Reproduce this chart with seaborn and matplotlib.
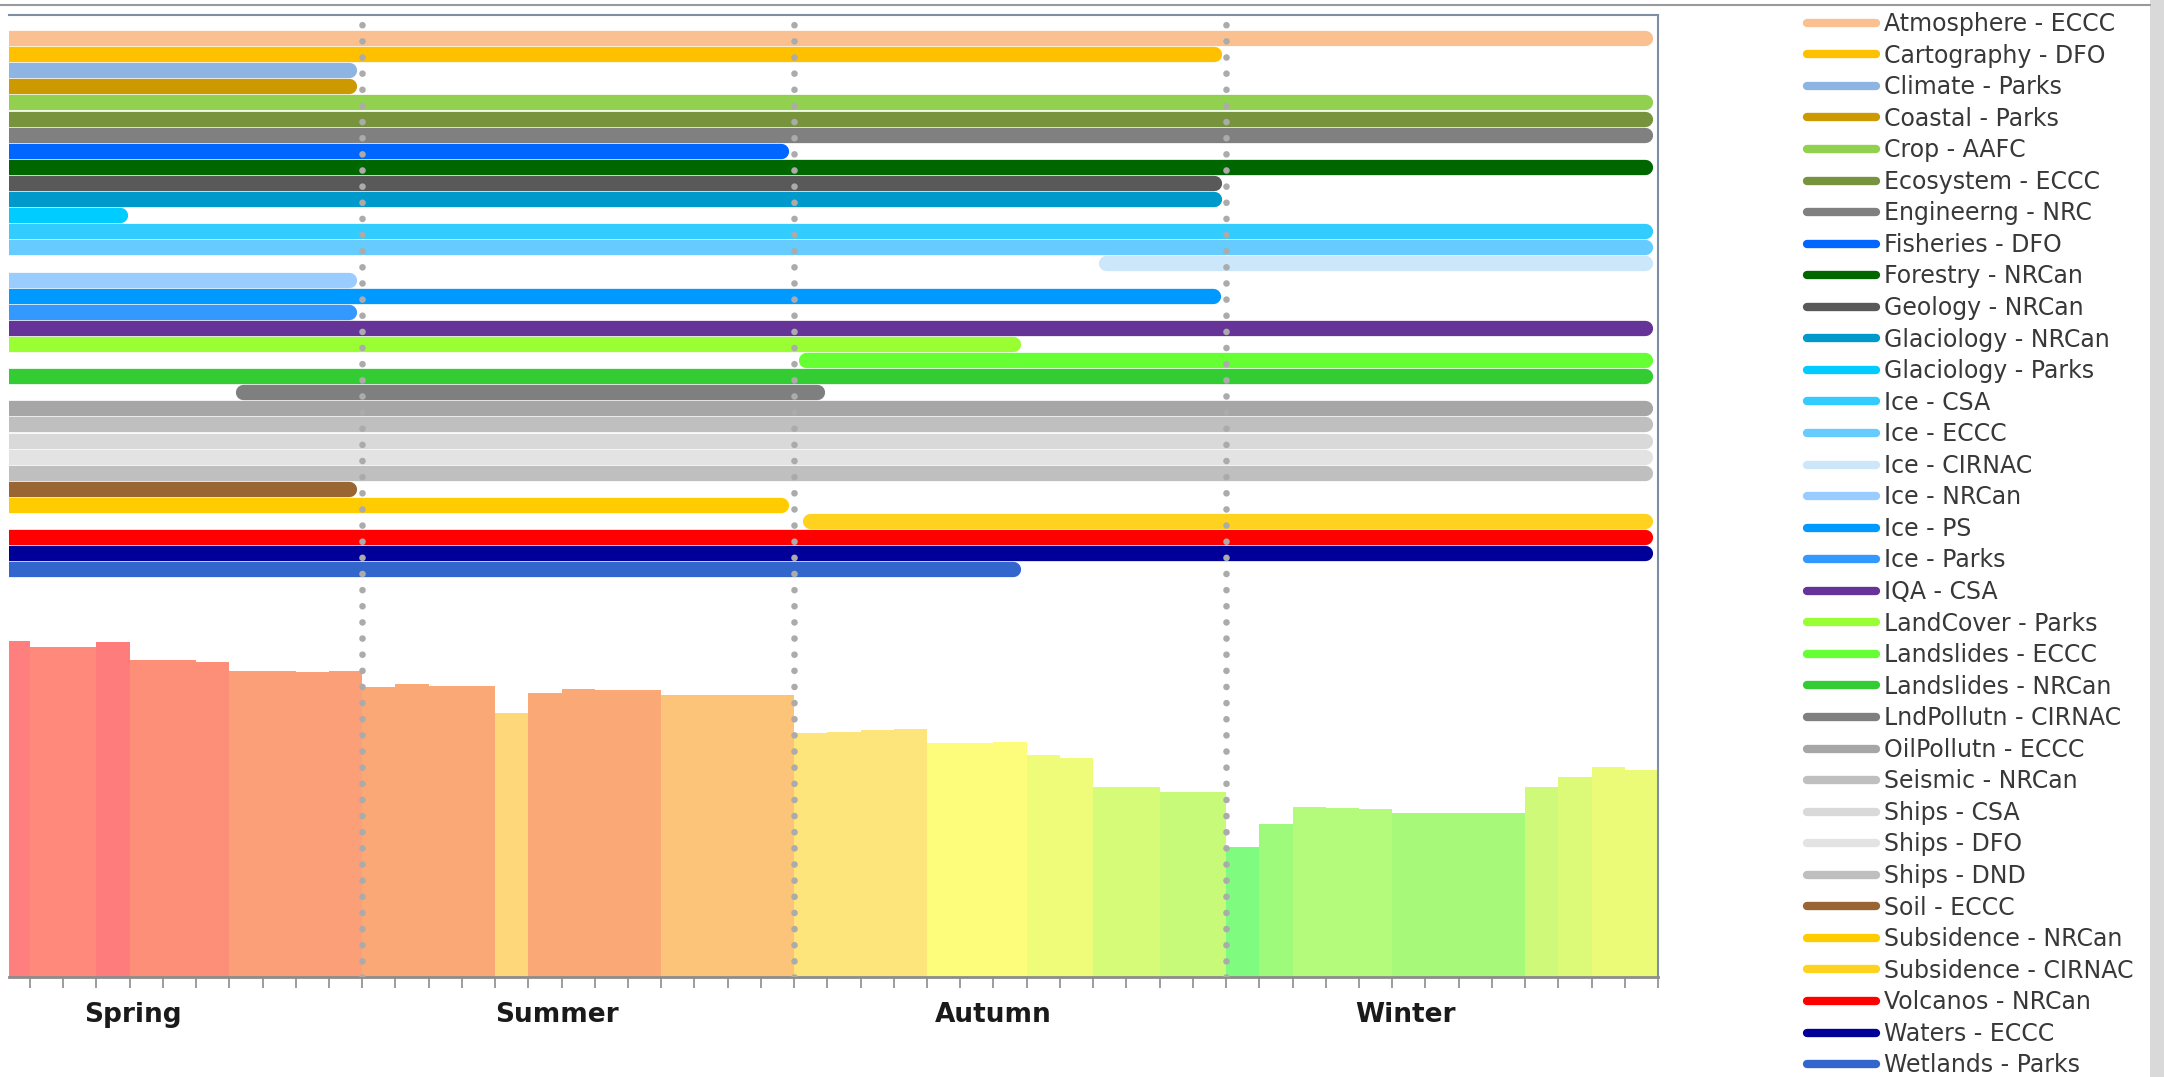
import matplotlib
matplotlib.use("Agg")
import matplotlib.pyplot as plt
from matplotlib.lines import Line2D
from matplotlib.patches import Rectangle
import pandas as pd
import seaborn as sns

# ---- weekly bars (weeks 3..52, each bar covers [week-1, week]) ----
weeks = list(range(3, 53))
week_values = [33.6, 33.0, 33.0, 33.5, 31.7, 31.7, 31.5, 30.6, 30.6, 30.5, 30.6,
               29.0, 29.3, 29.1, 29.1, 26.4, 28.4, 28.8, 28.7, 28.7, 28.2, 28.2, 28.2, 28.2,
               24.4, 24.5, 24.7, 24.8, 23.4, 23.4, 23.5, 22.2, 21.9, 19.0, 19.0, 18.5, 18.5,
               13.0, 15.3, 17.0, 16.9, 16.8, 16.4, 16.4, 16.4, 16.4, 19.0, 20.0, 21.0, 20.7]
week_colors = (["#ff7f7f"] + ["#ff8a7c"] * 2 + ["#ff7c7c"] + ["#fd8f79"] * 3 + ["#fb9f78"] * 4
               + ["#fba877"] * 4 + ["#fdd779"] + ["#fba877"] * 4 + ["#fbc479"] * 4
               + ["#fde57b"] * 4 + ["#fdfd7b"] * 3 + ["#eefc7a"] * 2 + ["#d5fb79"] * 2 + ["#c7fa79"] * 2
               + ["#7ffb7f"] + ["#9efa7a"] + ["#b5fb7b"] * 3 + ["#a7fa79"] * 4
               + ["#cff978"] + ["#dcfa78"] + ["#ebfb78"] * 2)

# ---- activity timeline (weeks) ----
series = ["Atmosphere - ECCC", "Cartography - DFO", "Climate - Parks", "Coastal - Parks",
          "Crop - AAFC", "Ecosystem - ECCC", "Engineerng - NRC", "Fisheries - DFO",
          "Forestry - NRCan", "Geology - NRCan", "Glaciology - NRCan", "Glaciology - Parks",
          "Ice - CSA", "Ice - ECCC", "Ice - CIRNAC", "Ice - NRCan", "Ice - PS", "Ice - Parks",
          "IQA - CSA", "LandCover - Parks", "Landslides - ECCC", "Landslides - NRCan",
          "LndPollutn - CIRNAC", "OilPollutn - ECCC", "Seismic - NRCan", "Ships - CSA",
          "Ships - DFO", "Ships - DND", "Soil - ECCC", "Subsidence - NRCan",
          "Subsidence - CIRNAC", "Volcanos - NRCan", "Waters - ECCC", "Wetlands - Parks"]
starts = [0, 0, 0, 0, 0, 0, 0, 0, 0, 0, 0, 0, 0, 0, 35.4, 0, 0, 0,
          0, 0, 26.35, 0, 9.42, 0, 0, 0, 0, 0, 0, 0, 26.47, 0, 0, 0]
ends = [51.6, 38.65, 12.6, 12.6, 51.6, 51.6, 51.6, 25.6, 51.6, 38.65, 38.65, 5.7,
        51.6, 51.6, 51.6, 12.6, 38.6, 12.6, 51.6, 32.6, 51.6, 51.6, 26.7, 51.6,
        51.6, 51.6, 51.6, 51.6, 12.6, 25.6, 51.6, 51.6, 51.6, 32.6]
series_colors = ["#fac090", "#ffc000", "#8db4e2", "#cc9900", "#92d050", "#77933c", "#808080",
                 "#0066ff", "#006600", "#595959", "#0099cc", "#00ccff", "#33ccff", "#66ccff",
                 "#cce6fa", "#99ccff", "#0099ff", "#3399ff", "#663399", "#99ff33", "#66ff33",
                 "#33cc33", "#7f7f7f", "#a6a6a6", "#bfbfbf", "#d9d9d9", "#e3e3e3", "#bfbfbf",
                 "#996633", "#ffcc00", "#ffd21f", "#ff0000", "#000099", "#3366cc"]

seasons = ["Spring", "Summer", "Autumn", "Winter"]
season_bounds = [13, 26, 39]

sns.set_theme(style="white")
plt.rcParams["font.family"] = ["DejaVu Sans"]

W, H = 2164, 1077
fig = plt.figure(figsize=(W / 100, H / 100), dpi=100)
ax = fig.add_axes([9 / W, 100 / H, 1649 / W, 962 / H])

bars = pd.DataFrame({"week": weeks, "value": week_values})
bars["mid"] = bars["week"] - 0.5
bars["key"] = bars["week"].astype(str)
sns.barplot(data=bars, x="mid", y="value", hue="key",
            palette=dict(zip(bars["key"], week_colors)), native_scale=True,
            width=1.0, saturation=1, linewidth=0, legend=False, ax=ax)
ax.set_xlim(2.37, 52)
ax.set_ylim(0, 96.2)
ax.set_xticks(weeks)
ax.set_xticklabels([])
ax.set_yticks([])
ax.set_xlabel("")
ax.set_ylabel("")
ax.tick_params(axis="x", bottom=True, direction="out", length=8, width=1.2, color="#8c8c8c")
ax.spines["left"].set_visible(False)
for side in ["top", "right"]:
    ax.spines[side].set_color("#7f8ea5")
    ax.spines[side].set_linewidth(1.5)
ax.spines["bottom"].set_color("#8c8c8c")
ax.spines["bottom"].set_linewidth(2)

# timeline on a twin axis
ax2 = ax.twinx()
rows = []
for i, name in enumerate(series):
    rows.append({"series": name, "week": starts[i], "row": i})
    rows.append({"series": name, "week": ends[i], "row": i})
timeline = pd.DataFrame(rows)
sns.lineplot(data=timeline, x="week", y="row", hue="series", units="series",
             estimator=None, sort=False, palette=dict(zip(series, series_colors)),
             linewidth=11, solid_capstyle="round", legend=False, ax=ax2)
ax2.set_ylim((977 - 38) / 16.1, (15 - 38) / 16.1)
ax2.set_xlim(2.37, 52)
ax2.set_yticks([])
ax2.set_ylabel("")
ax2.set_xlabel("")
for side in ax2.spines.values():
    side.set_visible(False)

for b in season_bounds:
    ax2.axvline(b, color="#ababab", lw=4.8, linestyle=(0, (0.001, 2.42)),
                dash_capstyle="round", zorder=5)

for name, wk in zip(seasons, [6.1, 18.85, 32.0, 44.4]):
    ax.text(wk, -0.04, name, transform=ax.get_xaxis_transform(), ha="center", va="center",
            fontsize=19, fontweight="bold", color="#1a1a1a")

handles = [Line2D([], [], color=c, lw=6, solid_capstyle="round") for c in series_colors]
fig.legend(handles, series, loc="upper left", bbox_to_anchor=(1807 / W, 1 - 12 / H),
           frameon=False, fontsize=17, labelspacing=0.32, handlelength=2.92,
           handletextpad=0.35, borderpad=0, borderaxespad=0, labelcolor="#383838")

# screenshot border remnants
fig.add_artist(Line2D([0, 2150 / W], [1 - 5 / H] * 2, color="#9a9a9a", lw=1.5,
                      transform=fig.transFigure))
fig.add_artist(Rectangle((2150 / W, 0), 14 / W, 1, transform=fig.transFigure,
                         facecolor="#d9d9d9", edgecolor="none"))

fig.savefig("out.png", dpi=100)
plt.close(fig)
